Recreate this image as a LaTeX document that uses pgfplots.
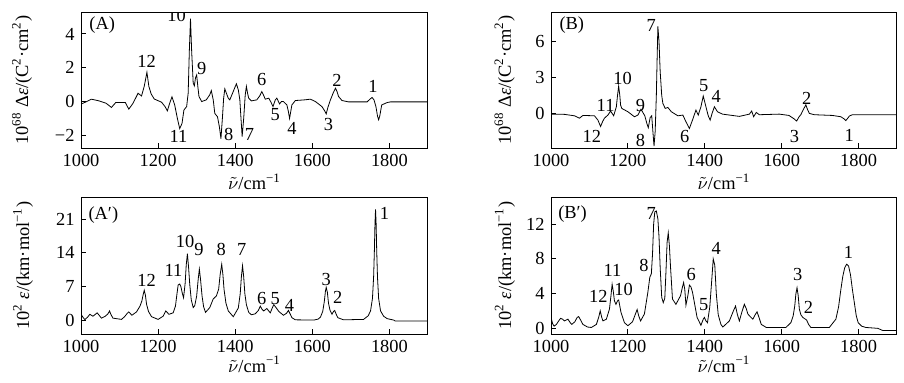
\documentclass[border=0pt]{standalone}
\usepackage{fontspec}
\setmainfont{Liberation Serif}
\usepackage{pgfplots}
\pgfplotsset{compat=1.18}
\begin{document}
\fontsize{9.2}{11}\selectfont
\begin{tikzpicture}
\useasboundingbox (0,0) rectangle (452pt,191pt);
\tikzset{lab/.style={font=\fontsize{9.2}{11}\selectfont, inner sep=0pt}}
\pgfplotsset{
  myax/.style={
    scale only axis, width=173.5pt, height=68pt, anchor=south west,
    xmin=1000, xmax=1900, xtick={1000,1200,1400,1600,1800},
    tick align=inside, xtick pos=bottom, ytick pos=left,
    major tick length=2.5pt,
    axis line style={line width=0.5pt},
    every tick/.style={line width=0.5pt,black},
    font=\fontsize{9.2}{11}\selectfont,
    /pgf/number format/assume math mode=true,
    /pgf/number format/1000 sep={},
    xlabel={$\tilde{\nu}$/cm\textsuperscript{−1}},
    cycle list={{black, no markers, line width=0.85pt, line join=round}},
  },
}
% ---------------- (A)
\begin{axis}[myax, at={(40.5pt,117pt)},
  ymin=-2.75, ymax=5.3, ytick={-2,0,2,4}, yticklabels={−2,0,2,4},
  ylabel={10\textsuperscript{68} Δ\textit{ε}/(C\textsuperscript{2}·cm\textsuperscript{2})},
  ylabel style={at={(axis description cs:-0.17,0.5)}, anchor=center},
  xlabel style={at={(axis description cs:0.5,-0.25)}, anchor=center}]
\addplot coordinates {(1000,-0.15) (1010,-0.05) (1027,0.14) (1045,0.05) (1065,-0.1) (1079,-0.35) (1090,-0.06) (1115,-0.06) (1124,-0.45) (1135,-0.1) (1148,0.49) (1157,0.33) (1164,0.9) (1171,1.73) (1176,0.9) (1182,0.45) (1190,0.15) (1209,-0.04) (1218,-0.3) (1224,-0.55) (1230,-0.1) (1236,0.28) (1243,-0.2) (1250,-1.0) (1256,-1.6) (1262,-1.3) (1267,-0.5) (1274,-0.3) (1278,0.5) (1281,3.0) (1284,4.9) (1287,3.0) (1291,1.1) (1294,0.93) (1297,1.4) (1300,1.57) (1303,0.9) (1306,0.3) (1313,0.0) (1325,0.1) (1334,0.4) (1338,0.65) (1343,0.1) (1347,-0.7) (1354,-0.9) (1359,-1.5) (1363,-2.2) (1367,-0.9) (1370,0.2) (1373,0.75) (1377,0.5) (1382,0.2) (1386,0.1) (1395,0.6) (1403,1.05) (1408,0.7) (1412,0.1) (1415,-1.0) (1418,-2.07) (1422,-1.0) (1426,0.4) (1429,0.9) (1432,0.5) (1435,0.2) (1442,0.04) (1456,0.1) (1464,0.35) (1469,0.59) (1474,0.35) (1478,0.14) (1487,0.2) (1493,-0.05) (1498,-0.3) (1504,0.1) (1508,0.2) (1515,-0.14) (1520,0.0) (1525,0.0) (1534,-0.2) (1538,-0.6) (1541,-1.0) (1544,-0.6) (1547,-0.2) (1556,0.06) (1580,0.1) (1595,0.14) (1608,0.0) (1625,-0.3) (1632,-0.55) (1636,-0.73) (1641,-0.3) (1647,0.1) (1654,0.5) (1660,0.79) (1664,0.6) (1668,0.3) (1677,0.06) (1694,-0.02) (1742,-0.02) (1750,0.15) (1755,0.24) (1760,0.1) (1765,-0.3) (1769,-0.85) (1772,-1.08) (1775,-0.85) (1780,-0.2) (1794,-0.06) (1803,-0.02) (1900,-0.02)};
\node[lab] at (axis cs:1055,4.52) {(A)};
\node[lab] at (axis cs:1248,5.1) {10};
\node[lab] at (axis cs:1170,2.36) {12};
\node[lab] at (axis cs:1313,1.97) {9};
\node[lab] at (axis cs:1469,1.28) {6};
\node[lab] at (axis cs:1664,1.28) {2};
\node[lab] at (axis cs:1757,0.89) {1};
\node[lab] at (axis cs:1253,-2.06) {11};
\node[lab] at (axis cs:1383,-1.96) {8};
\node[lab] at (axis cs:1437,-1.96) {7};
\node[lab] at (axis cs:1504,-0.78) {5};
\node[lab] at (axis cs:1547,-1.57) {4};
\node[lab] at (axis cs:1642,-1.37) {3};
\end{axis}
% ---------------- (B)
\begin{axis}[myax, at={(275.5pt,117pt)}, width=173pt,
  ymin=-2.9, ymax=8.5, ytick={0,3,6},
  ylabel={10\textsuperscript{68} Δ\textit{ε}/(C\textsuperscript{2}·cm\textsuperscript{2})},
  ylabel style={at={(axis description cs:-0.134,0.5)}, anchor=center},
  xlabel style={at={(axis description cs:0.5,-0.25)}, anchor=center}]
\addplot coordinates {(1000,-0.06) (1035,-0.08) (1061,-0.2) (1074,-0.4) (1083,-0.17) (1113,-0.2) (1122,-0.56) (1129,-1.1) (1134,-0.7) (1139,-0.4) (1148,-0.14) (1155,0.2) (1163,-0.2) (1170,0.56) (1173,1.5) (1176,2.29) (1179,1.5) (1181,0.7) (1184,0.42) (1200,0.14) (1217,-0.28) (1226,-0.14) (1234,0.35) (1244,-0.2) (1249,-0.8) (1253,-1.2) (1258,-0.34) (1262,-0.2) (1265,-1.5) (1268,-2.75) (1271,-1.5) (1274,1.5) (1276,4.5) (1278,7.3) (1281,6.0) (1284,3.5) (1288,1.5) (1291,0.84) (1297,0.42) (1304,0.5) (1313,0.14) (1330,-0.2) (1343,-0.14) (1351,-0.7) (1360,-1.26) (1368,-0.56) (1377,0.28) (1383,-0.14) (1390,0.56) (1396,1.45) (1403,0.56) (1409,-0.2) (1414,-0.56) (1419,0.0) (1425,0.56) (1433,0.14) (1446,-0.06) (1490,-0.25) (1516,-0.06) (1522,0.2) (1527,-0.28) (1534,0.08) (1542,-0.11) (1594,-0.06) (1619,-0.17) (1632,-0.45) (1639,-0.64) (1645,-0.3) (1650,-0.1) (1656,0.3) (1663,0.72) (1667,0.35) (1672,0.0) (1685,-0.11) (1732,-0.17) (1754,-0.28) (1762,-0.45) (1767,-0.6) (1772,-0.4) (1776,-0.22) (1784,-0.11) (1900,-0.11)};
\node[lab] at (axis cs:1054,7.4) {(B)};
\node[lab] at (axis cs:1261,7.4) {7};
\node[lab] at (axis cs:1186,2.93) {10};
\node[lab] at (axis cs:1142,0.7) {11};
\node[lab] at (axis cs:1233,0.7) {9};
\node[lab] at (axis cs:1397,2.37) {5};
\node[lab] at (axis cs:1430,1.39) {4};
\node[lab] at (axis cs:1665,1.26) {2};
\node[lab] at (axis cs:1106,-1.96) {12};
\node[lab] at (axis cs:1233,-2.24) {8};
\node[lab] at (axis cs:1348,-1.96) {6};
\node[lab] at (axis cs:1633,-1.96) {3};
\node[lab] at (axis cs:1776,-1.82) {1};
\end{axis}
% ---------------- (A')
\begin{axis}[myax, at={(40.5pt,24pt)}, height=68.5pt,
  ymin=-2.9, ymax=25.6, ytick={0,7,14,21},
  ylabel={10\textsuperscript{2} \textit{ε}/(km·mol\textsuperscript{−1})},
  ylabel style={at={(axis description cs:-0.167,0.5)}, anchor=center},
  xlabel style={at={(axis description cs:0.5,-0.22)}, anchor=center}]
\addplot coordinates {(1000,1.2) (1005,0.6) (1010,0.1) (1017,0.6) (1023,1.2) (1031,0.8) (1042,1.5) (1053,0.4) (1063,0.8) (1070,1.3) (1074,1.9) (1078,1.1) (1083,0.4) (1105,0.14) (1113,0.7) (1120,1.4) (1124,1.7) (1132,1.0) (1144,1.7) (1153,2.9) (1158,4.0) (1161,5.2) (1164,6.2) (1167,5.2) (1170,3.3) (1175,1.8) (1183,0.7) (1200,0.14) (1213,0.8) (1220,1.9) (1228,1.2) (1239,1.5) (1245,2.9) (1249,5.5) (1252,7.3) (1256,7.5) (1259,7.0) (1263,5.5) (1266,4.65) (1270,7.5) (1273,11.5) (1276,13.8) (1279,11.0) (1282,7.5) (1286,4.2) (1291,2.6) (1295,3.0) (1300,5.0) (1304,8.5) (1307,10.6) (1310,8.5) (1314,5.0) (1318,2.8) (1323,1.6) (1334,2.6) (1343,4.4) (1351,5.0) (1357,6.4) (1361,9.5) (1365,11.6) (1368,9.5) (1371,6.4) (1376,3.5) (1382,1.9) (1395,0.7) (1408,2.5) (1413,5.5) (1416,9.0) (1419,11.3) (1422,9.0) (1425,5.5) (1429,3.2) (1435,1.6) (1442,1.1) (1452,1.3) (1460,2.0) (1465,2.9) (1470,2.2) (1474,1.9) (1482,2.4) (1491,1.5) (1496,2.5) (1500,3.2) (1505,2.7) (1513,1.8) (1525,1.0) (1533,1.4) (1538,2.0) (1543,1.2) (1547,0.5) (1556,0.05) (1604,0.0) (1615,0.2) (1621,0.6) (1627,1.8) (1631,3.8) (1634,6.0) (1636,6.8) (1639,5.8) (1642,3.5) (1646,2.0) (1651,1.2) (1655,1.8) (1658,2.0) (1662,1.2) (1666,0.5) (1681,0.05) (1733,0.14) (1745,0.9) (1751,1.9) (1756,4.5) (1759,9.0) (1761,14.5) (1762.5,20.0) (1764,23.0) (1765.5,20.0) (1767,14.5) (1769,9.0) (1772,4.5) (1777,1.9) (1785,0.8) (1794,0.3) (1811,0.0) (1815,-0.2) (1900,-0.2)};
\node[lab] at (axis cs:1058,21.9) {(A′)};
\node[lab] at (axis cs:1170,8.2) {12};
\node[lab] at (axis cs:1240,10.4) {11};
\node[lab] at (axis cs:1270,16.3) {10};
\node[lab] at (axis cs:1306,14.6) {9};
\node[lab] at (axis cs:1364,14.6) {8};
\node[lab] at (axis cs:1417,14.6) {7};
\node[lab] at (axis cs:1469,4.5) {6};
\node[lab] at (axis cs:1504,4.5) {5};
\node[lab] at (axis cs:1541,3.1) {4};
\node[lab] at (axis cs:1636,8.5) {3};
\node[lab] at (axis cs:1666,4.7) {2};
\node[lab] at (axis cs:1787,22.1) {1};
\end{axis}
% ---------------- (B')
\begin{axis}[myax, at={(275.5pt,24pt)}, width=173pt, height=68.5pt,
  ymin=-0.6, ymax=15.1, ytick={0,4,8,12},
  ylabel={10\textsuperscript{2} \textit{ε}/(km·mol\textsuperscript{−1})},
  ylabel style={at={(axis description cs:-0.133,0.5)}, anchor=center},
  xlabel style={at={(axis description cs:0.5,-0.22)}, anchor=center}]
\addplot coordinates {(1000,1.3) (1004,0.6) (1008,0.3) (1014,0.5) (1020,0.9) (1025,1.2) (1030,1.1) (1035,0.9) (1044,1.1) (1050,0.7) (1054,0.5) (1062,0.8) (1068,1.3) (1072,1.4) (1077,1.0) (1083,0.5) (1095,0.2) (1105,0.15) (1118,0.5) (1124,1.3) (1128,2.06) (1132,1.3) (1135,0.9) (1144,1.1) (1152,2.25) (1156,3.8) (1159,5.1) (1162,4.3) (1165,3.2) (1169,2.8) (1173,3.2) (1176,3.3) (1179,2.6) (1182,1.9) (1191,0.7) (1200,0.35) (1212,0.8) (1218,1.5) (1224,2.2) (1228,1.5) (1233,0.9) (1243,1.7) (1252,4.2) (1257,5.9) (1261,6.3) (1264,8.5) (1267,12.0) (1270,13.4) (1274,13.5) (1278,12.6) (1281,10.5) (1284,7.0) (1288,3.6) (1292,3.0) (1296,3.5) (1299,6.5) (1302,9.9) (1305,11.0) (1308,9.5) (1311,7.0) (1316,3.4) (1325,2.8) (1337,3.8) (1342,4.8) (1345,5.3) (1348,4.5) (1351,2.7) (1356,3.8) (1360,5.0) (1364,4.8) (1368,4.2) (1373,3.0) (1380,1.3) (1390,0.4) (1396,1.1) (1399,1.3) (1403,0.9) (1407,0.7) (1413,2.5) (1418,5.5) (1422,8.0) (1426,7.3) (1430,4.0) (1435,1.6) (1442,0.5) (1447,0.2) (1464,0.9) (1474,2.0) (1480,2.6) (1485,1.6) (1490,0.9) (1497,2.0) (1503,2.8) (1508,2.3) (1512,1.7) (1518,1.4) (1525,1.1) (1531,1.6) (1536,1.95) (1541,1.3) (1547,0.5) (1560,0.15) (1611,0.15) (1624,0.7) (1630,1.5) (1634,2.6) (1637,4.0) (1640,4.7) (1643,3.8) (1646,2.25) (1650,1.6) (1655,1.3) (1665,1.0) (1670,0.5) (1676,0.15) (1724,0.15) (1741,1.1) (1748,2.5) (1754,4.5) (1759,6.0) (1764,7.0) (1769,7.4) (1774,7.2) (1779,6.2) (1784,4.5) (1789,3.0) (1794,1.5) (1799,0.7) (1808,0.3) (1819,0.15) (1850,0.05) (1863,-0.2) (1900,-0.2)};
\node[lab] at (axis cs:1056,13.1) {(B′)};
\node[lab] at (axis cs:1261,13.2) {7};
\node[lab] at (axis cs:1242,7.2) {8};
\node[lab] at (axis cs:1160,6.7) {11};
\node[lab] at (axis cs:1189,4.5) {10};
\node[lab] at (axis cs:1123,3.7) {12};
\node[lab] at (axis cs:1365,6.2) {6};
\node[lab] at (axis cs:1397,2.75) {5};
\node[lab] at (axis cs:1430,9.25) {4};
\node[lab] at (axis cs:1642,6.2) {3};
\node[lab] at (axis cs:1670,2.4) {2};
\node[lab] at (axis cs:1774,8.75) {1};
\end{axis}
\end{tikzpicture}
\end{document}
